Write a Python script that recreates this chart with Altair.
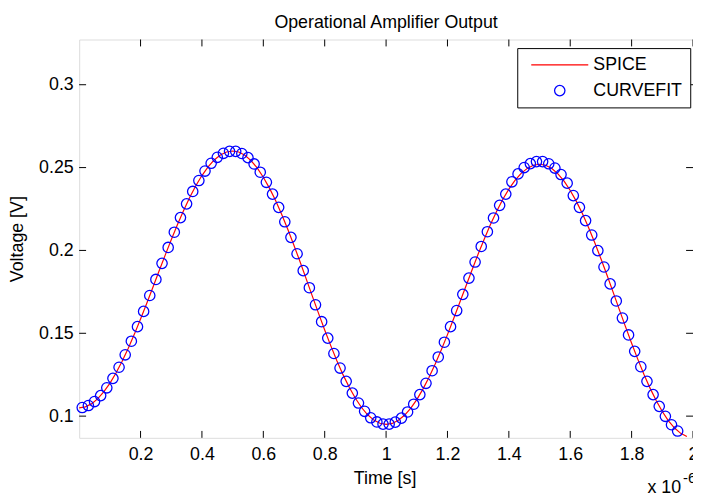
import altair as alt
import pandas as pd

# ---- data (time in units of 1e-6 s, voltage in V) ----
spice_t = [
    0.00, 0.02, 0.04, 0.06, 0.08, 0.10, 0.12, 0.14, 0.16, 0.18,
    0.20, 0.22, 0.24, 0.26, 0.28, 0.30, 0.32, 0.34, 0.36, 0.38,
    0.40, 0.42, 0.44, 0.46, 0.48, 0.50, 0.52, 0.54, 0.56, 0.58,
    0.60, 0.62, 0.64, 0.66, 0.68, 0.70, 0.72, 0.74, 0.76, 0.78,
    0.80, 0.82, 0.84, 0.86, 0.88, 0.90, 0.92, 0.94, 0.96, 0.98,
    1.00, 1.02, 1.04, 1.06, 1.08, 1.10, 1.12, 1.14, 1.16, 1.18,
    1.20, 1.22, 1.24, 1.26, 1.28, 1.30, 1.32, 1.34, 1.36, 1.38,
    1.40, 1.42, 1.44, 1.46, 1.48, 1.50, 1.52, 1.54, 1.56, 1.58,
    1.60, 1.62, 1.64, 1.66, 1.68, 1.70, 1.72, 1.74, 1.76, 1.78,
    1.80, 1.82, 1.84, 1.86, 1.88, 1.90, 1.92, 1.94, 1.96, 1.98,
]
spice_v = [
    0.1050, 0.1056, 0.1074, 0.1104, 0.1146, 0.1198, 0.1260, 0.1331, 0.1410, 0.1495,
    0.1586, 0.1680, 0.1776, 0.1874, 0.1970, 0.2064, 0.2155, 0.2240, 0.2319, 0.2390,
    0.2452, 0.2504, 0.2546, 0.2576, 0.2594, 0.2600, 0.2594, 0.2574, 0.2542, 0.2498,
    0.2442, 0.2376, 0.2301, 0.2217, 0.2126, 0.2030, 0.1930, 0.1827, 0.1723, 0.1620,
    0.1520, 0.1424, 0.1333, 0.1249, 0.1174, 0.1108, 0.1052, 0.1008, 0.0976, 0.0957,
    0.0950, 0.0956, 0.0975, 0.1005, 0.1047, 0.1100, 0.1163, 0.1235, 0.1314, 0.1401,
    0.1492, 0.1588, 0.1686, 0.1784, 0.1882, 0.1978, 0.2069, 0.2156, 0.2235, 0.2307,
    0.2370, 0.2423, 0.2465, 0.2495, 0.2514, 0.2520, 0.2514, 0.2494, 0.2462, 0.2418,
    0.2362, 0.2296, 0.2221, 0.2137, 0.2046, 0.1950, 0.1850, 0.1747, 0.1643, 0.1540,
    0.1440, 0.1344, 0.1253, 0.1169, 0.1094, 0.1028, 0.0972, 0.0928, 0.0896, 0.0877,
]
fit_t = [
    0.01, 0.03, 0.05, 0.07, 0.09, 0.11, 0.13, 0.15, 0.17, 0.19,
    0.21, 0.23, 0.25, 0.27, 0.29, 0.31, 0.33, 0.35, 0.37, 0.39,
    0.41, 0.43, 0.45, 0.47, 0.49, 0.51, 0.53, 0.55, 0.57, 0.59,
    0.61, 0.63, 0.65, 0.67, 0.69, 0.71, 0.73, 0.75, 0.77, 0.79,
    0.81, 0.83, 0.85, 0.87, 0.89, 0.91, 0.93, 0.95, 0.97, 0.99,
    1.01, 1.03, 1.05, 1.07, 1.09, 1.11, 1.13, 1.15, 1.17, 1.19,
    1.21, 1.23, 1.25, 1.27, 1.29, 1.31, 1.33, 1.35, 1.37, 1.39,
    1.41, 1.43, 1.45, 1.47, 1.49, 1.51, 1.53, 1.55, 1.57, 1.59,
    1.61, 1.63, 1.65, 1.67, 1.69, 1.71, 1.73, 1.75, 1.77, 1.79,
    1.81, 1.83, 1.85, 1.87, 1.89, 1.91, 1.93, 1.95,
]
fit_v = [
    0.1052, 0.1064, 0.1088, 0.1124, 0.1171, 0.1228, 0.1295, 0.1370, 0.1452, 0.1540,
    0.1632, 0.1728, 0.1825, 0.1922, 0.2018, 0.2110, 0.2198, 0.2281, 0.2356, 0.2422,
    0.2479, 0.2526, 0.2562, 0.2586, 0.2598, 0.2598, 0.2585, 0.2560, 0.2522, 0.2472,
    0.2411, 0.2340, 0.2260, 0.2173, 0.2079, 0.1980, 0.1878, 0.1775, 0.1672, 0.1570,
    0.1471, 0.1378, 0.1290, 0.1210, 0.1139, 0.1079, 0.1029, 0.0990, 0.0965, 0.0952,
    0.0952, 0.0964, 0.0988, 0.1025, 0.1072, 0.1130, 0.1198, 0.1274, 0.1357, 0.1446,
    0.1540, 0.1637, 0.1735, 0.1833, 0.1930, 0.2024, 0.2113, 0.2196, 0.2272, 0.2340,
    0.2414, 0.2462, 0.2500, 0.2524, 0.2536, 0.2536, 0.2523, 0.2497, 0.2458, 0.2406,
    0.2331, 0.2260, 0.2180, 0.2093, 0.1999, 0.1900, 0.1798, 0.1695, 0.1592, 0.1490,
    0.1391, 0.1298, 0.1210, 0.1130, 0.1059, 0.0999, 0.0948, 0.0910,
]
x_ticks = [0.2, 0.4, 0.6, 0.8, 1.0, 1.2, 1.4, 1.6, 1.8, 2.0]
y_ticks = [0.1, 0.15, 0.2, 0.25, 0.3]
series_names = ["SPICE", "CURVEFIT"]
x_domain = [0.0, 2.0]
y_domain = [0.0869, 0.3273]

# ---- layout / style ----
W, H = 621, 403
FONT = "Liberation Sans"
TICK = 7
MSIZE = 110

spice_df = pd.DataFrame({"t": spice_t, "v": spice_v})
fit_df = pd.DataFrame({"t": fit_t, "v": fit_v, "series": ["CURVEFIT"] * len(fit_t)})
xt_df = pd.DataFrame({"t": x_ticks})
yt_df = pd.DataFrame({"v": y_ticks})

xscale = alt.Scale(domain=x_domain, nice=False, zero=False)
yscale = alt.Scale(domain=y_domain, nice=False, zero=False)
color_scale = alt.Scale(domain=series_names, range=["#ff0000", "#0000ff"])
shape_scale = alt.Scale(domain=series_names, range=["M-5.5,0H5.5", "circle"])

x_axis = alt.Axis(
    values=x_ticks, format="~g", title="Time [s]", grid=False, ticks=False, tickSize=0,
    domain=False, labelPadding=8, labelFontSize=18, labelFont=FONT, labelColor="black",
    labelFlush=False, labelOverlap=False,
    titleFontSize=18, titleFont=FONT, titleFontWeight="normal", titleColor="black",
    titleX=309, titleY=46, titleBaseline="alphabetic", titleAlign="center",
)
y_axis = alt.Axis(
    values=y_ticks, format="~g", title="Voltage [V]", grid=False, ticks=False, tickSize=0,
    domain=False, labelPadding=6, labelFontSize=18, labelFont=FONT, labelColor="black",
    labelFlush=False, labelOverlap=False,
    titleFontSize=18, titleFont=FONT, titleFontWeight="normal", titleColor="black",
    titleX=-57, titleY=201.5, titleAngle=270, titleBaseline="alphabetic", titleAlign="center",
)

legend = alt.Legend(
    title=None, orient="none", legendX=443.2, legendY=8.7, direction="vertical",
    fillColor="white", strokeColor="black", padding=8, cornerRadius=0,
    labelFont=FONT, labelFontSize=18, labelColor="black",
    symbolSize=MSIZE, symbolStrokeWidth=1.3, symbolOffset=26, labelOffset=25, rowPadding=8,
)

X = alt.X("t:Q", scale=xscale, axis=x_axis)
Y = alt.Y("v:Q", scale=yscale, axis=y_axis)

line = alt.Chart(spice_df).mark_line(color="#ff0000", strokeWidth=1.2).encode(x=X, y=Y)

points = alt.Chart(fit_df).mark_point(filled=False, size=MSIZE, strokeWidth=1.3, opacity=1).encode(
    x=X, y=Y,
    color=alt.Color("series:N", scale=color_scale, legend=legend),
    shape=alt.Shape("series:N", scale=shape_scale, legend=legend),
)

rule_style = dict(color="black", strokeWidth=1)
xt_bottom = alt.Chart(xt_df).mark_rule(**rule_style).encode(
    x=X, y=alt.value(H), y2=alt.value(H - TICK))
xt_top = alt.Chart(xt_df).mark_rule(**rule_style).encode(
    x=X, y=alt.value(0), y2=alt.value(TICK))
yt_left = alt.Chart(yt_df).mark_rule(**rule_style).encode(
    y=Y, x=alt.value(0), x2=alt.value(TICK))
yt_right = alt.Chart(yt_df).mark_rule(**rule_style).encode(
    y=Y, x=alt.value(W), x2=alt.value(W - TICK))

mult_df = pd.DataFrame({"s": ["x 10"]})
exp_df = pd.DataFrame({"s": ["-6"]})
mult = alt.Chart(mult_df).mark_text(align="left", baseline="alphabetic", font=FONT,
                                    fontSize=18, color="black").encode(
    text="s:N", x=alt.value(575), y=alt.value(459))
expo = alt.Chart(exp_df).mark_text(align="left", baseline="alphabetic", font=FONT,
                                   fontSize=15, color="black").encode(
    text="s:N", x=alt.value(611), y=alt.value(449))

chart = alt.layer(line, points, xt_bottom, xt_top, yt_left, yt_right, mult, expo).properties(
    width=W, height=H,
    title=alt.TitleParams("Operational Amplifier Output", font=FONT, fontSize=18,
                          fontWeight="normal", color="black", anchor="middle", offset=7),
    padding={"left": 72, "top": 29, "right": 0, "bottom": 58},
    autosize=alt.AutoSizeParams(type="none"),
).configure_view(stroke="black", strokeWidth=1).configure(background="white")

chart.save("out.html", embed_options={"renderer": "svg", "actions": False})
